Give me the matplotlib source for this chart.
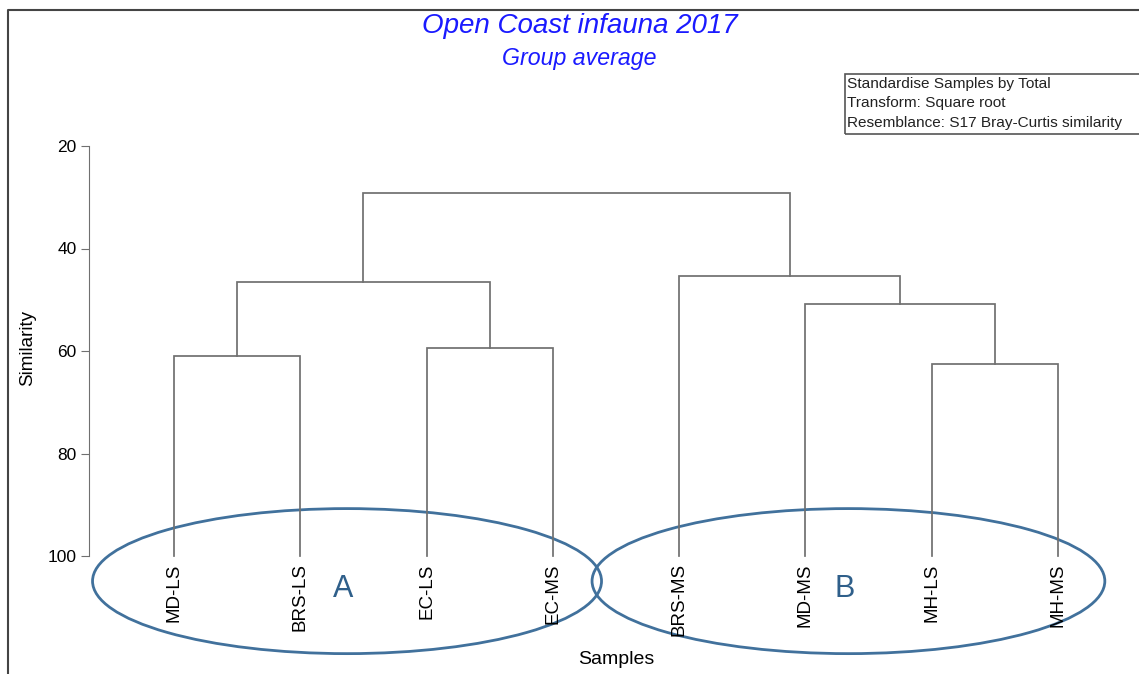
import matplotlib
matplotlib.use("Agg")
import matplotlib.pyplot as plt
from matplotlib.patches import Ellipse, Rectangle
from matplotlib.lines import Line2D

plt.rcParams['font.family'] = ['Liberation Sans', 'DejaVu Sans']

labels = ['MD-LS', 'BRS-LS', 'EC-LS', 'EC-MS', 'BRS-MS', 'MD-MS', 'MH-LS', 'MH-MS']
# merges: (child a, child b, similarity); new node ids start at len(labels)
merge_a = [0, 2, 8, 6, 5, 4, 10]
merge_b = [1, 3, 9, 7, 11, 12, 13]
merge_sim = [61.0, 59.5, 46.5, 62.5, 50.8, 45.4, 29.2]

groups = ['A', 'B']
group_cx = [2.37, 6.34]
group_w = [4.03, 4.06]
group_cy = 104.9
group_h = 28.3

info_lines = ['Standardise Samples by Total', 'Transform: Square root',
              'Resemblance: S17 Bray-Curtis similarity']

W, H = 1139, 674
fig = plt.figure(figsize=(W / 100, H / 100), dpi=100)

# axes: spine at px 89, top (20) at px 146, 100 at px 556
ax = fig.add_axes([89 / W, 0, 1 - 89 / W, 1 - 146 / H])
ax.set_xlim(1 - 85 / 126.3, 1 + (W - 174) / 126.3)
ax.set_ylim(20 + (H - 146) / 5.125, 20)

line_col = '#707070'
nx = list(range(1, len(labels) + 1))
ny = [100.0] * len(labels)
for a, b, s in zip(merge_a, merge_b, merge_sim):
    ax.plot([nx[a], nx[a], nx[b], nx[b]], [ny[a], s, s, ny[b]],
            color=line_col, lw=1.25, solid_joinstyle='miter')
    nx.append((nx[a] + nx[b]) / 2)
    ny.append(s)

for i, lab in enumerate(labels):
    ax.text(i + 1, 101.4, lab, rotation=90, ha='center', va='top', fontsize=13.5)

ell_col = '#41719C'
for g, cx, w in zip(groups, group_cx, group_w):
    ax.add_patch(Ellipse((cx, group_cy), w, group_h, fill=False,
                         edgecolor=ell_col, lw=2, clip_on=False))
    ax.text(cx - 0.03, group_cy + 1.5, g, ha='center', va='center',
            fontsize=22, color='#2F5F8A')

for s in ['top', 'right', 'bottom']:
    ax.spines[s].set_visible(False)
ax.spines['left'].set_bounds(20, 100)
ax.spines['left'].set_color(line_col)
ax.set_yticks([20, 40, 60, 80, 100])
ax.tick_params(axis='y', length=6, color=line_col, labelsize=12.5, pad=3)
ax.set_xticks([])
ax.set_ylabel('Similarity', fontsize=13.5)
ax.yaxis.set_label_coords(-53 / (W - 89), (H - 348) / (H - 146))
fig.text(616 / W, 1 - 659 / H, 'Samples', ha='center', va='center', fontsize=14)

fig.text(580 / W, 1 - 26 / H, 'Open Coast infauna 2017', ha='center', va='center',
         fontsize=20, style='italic', color='#1a1aff')
fig.text(579 / W, 1 - 58 / H, 'Group average', ha='center', va='center',
         fontsize=16.7, style='italic', color='#1a1aff')

fig.patches.append(Rectangle((845 / W, 1 - 134 / H), 300 / W, 60 / H,
                             transform=fig.transFigure, fill=False,
                             edgecolor='#555555', lw=1.2))
for k, t in enumerate(info_lines):
    fig.text(847 / W, 1 - (84 + 19.5 * k) / H, t, ha='left', va='center',
             fontsize=11.1, color='#222222')

fig.lines.append(Line2D([8 / W, 8 / W, 1], [0, 1 - 10 / H, 1 - 10 / H],
                        transform=fig.transFigure, color='#444444', lw=1.5))

fig.savefig('out.png', dpi=100)
